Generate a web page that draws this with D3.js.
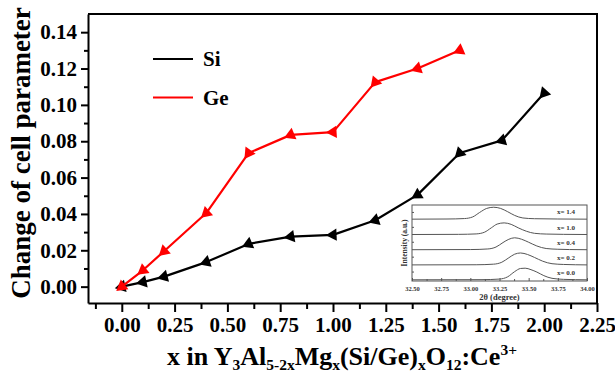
<!DOCTYPE html>
<html>
<head>
<meta charset="utf-8">
<script src="https://cdn.jsdelivr.net/npm/d3@7"></script>
<style>
  html, body { margin: 0; padding: 0; background: #fff; }
  svg { display: block; }
  text { font-family: "Liberation Serif", "Times New Roman", serif; font-weight: bold; }
</style>
</head>
<body>
<svg id="chart" width="615" height="373"></svg>
<script>
// Composition x (Mg/Si or Mg/Ge content)
const siX = [0, 0.1, 0.2, 0.4, 0.6, 0.8, 1.0, 1.2, 1.4, 1.6, 1.8, 2.0];
const siY = [0.000, 0.0025, 0.0055, 0.0135, 0.0235, 0.0275, 0.0285, 0.0365, 0.0505, 0.0735, 0.0805, 0.1065];
const geX = [0, 0.1, 0.2, 0.4, 0.6, 0.8, 1.0, 1.2, 1.4, 1.6];
const geY = [0.000, 0.009, 0.0195, 0.0405, 0.0735, 0.0835, 0.085, 0.1125, 0.1200, 0.1300];

const xTicks = [0, 0.25, 0.5, 0.75, 1.0, 1.25, 1.5, 1.75, 2.0, 2.25];
const yTicks = [0, 0.02, 0.04, 0.06, 0.08, 0.10, 0.12, 0.14];

// XRD inset: peak profiles (2θ in degrees, relative intensity) for several x
const insetLabels = ["x= 1.4", "x= 1.0", "x= 0.4", "x= 0.2", "x= 0.0"];
const insetOffsets = [4.15, 3.12, 2.1, 1.08, 0.08];
const inset14 = [[32.50,0.00],[32.80,0.01],[32.95,0.04],[33.02,0.15],[33.08,0.45],[33.14,0.72],[33.20,0.80],[33.26,0.72],[33.32,0.50],[33.38,0.25],[33.45,0.08],[33.55,0.03],[33.75,0.01],[34.00,0.00]];
const inset10 = [[32.50,0.00],[32.90,0.01],[33.05,0.04],[33.12,0.15],[33.18,0.45],[33.23,0.70],[33.29,0.78],[33.35,0.68],[33.41,0.45],[33.48,0.22],[33.55,0.08],[33.65,0.03],[33.80,0.01],[34.00,0.00]];
const inset04 = [[32.50,0.00],[33.00,0.01],[33.15,0.05],[33.22,0.18],[33.28,0.48],[33.33,0.70],[33.38,0.80],[33.44,0.70],[33.50,0.50],[33.57,0.25],[33.65,0.08],[33.75,0.03],[33.85,0.01],[34.00,0.00]];
const inset02 = [[32.50,0.00],[33.05,0.01],[33.20,0.05],[33.27,0.18],[33.33,0.48],[33.38,0.72],[33.43,0.80],[33.49,0.70],[33.55,0.50],[33.62,0.25],[33.70,0.08],[33.80,0.03],[33.90,0.01],[34.00,0.00]];
const inset00 = [[32.50,0.00],[33.10,0.01],[33.25,0.05],[33.32,0.20],[33.38,0.55],[33.43,0.76],[33.47,0.78],[33.52,0.68],[33.57,0.52],[33.63,0.28],[33.70,0.10],[33.80,0.03],[33.90,0.01],[34.00,0.00]];
const insetSeries = [inset14, inset10, inset04, inset02, inset00];
const insetTicks = [32.50, 32.75, 33.00, 33.25, 33.50, 33.75, 34.00];

const svg = d3.select("#chart");

// Main plot frame
const L = 88, R = 597, T = 14, B = 303;
const x = d3.scaleLinear().domain([-0.16, 2.25]).range([L, R]);
const y = d3.scaleLinear().domain([-0.009, 0.15]).range([B, T]);

// Axes with major and minor ticks
const xMinor = d3.range(-0.125, 2.25, 0.125).filter(v => !xTicks.some(t => Math.abs(t - v) < 1e-6));
const yMinor = d3.range(0.01, 0.15, 0.02);

const gx = svg.append("g").attr("transform", `translate(0,${B})`);
gx.call(d3.axisBottom(x).tickValues(xTicks).tickSize(9).tickSizeOuter(0).tickFormat(d3.format(".2f")));
const gxm = svg.append("g").attr("transform", `translate(0,${B})`);
gxm.call(d3.axisBottom(x).tickValues(xMinor).tickSize(6).tickSizeOuter(0).tickFormat(""));
gxm.select(".domain").remove();

const gy = svg.append("g").attr("transform", `translate(${L},0)`);
gy.call(d3.axisLeft(y).tickValues(yTicks).tickSize(7).tickSizeOuter(0).tickFormat(d3.format(".2f")));
const gym = svg.append("g").attr("transform", `translate(${L},0)`);
gym.call(d3.axisLeft(y).tickValues(yMinor).tickSize(4).tickSizeOuter(0).tickFormat(""));
gym.select(".domain").remove();

[gx, gxm, gy, gym].forEach(g => g.attr("font-family", null).attr("font-size", null));
svg.selectAll(".tick line").attr("stroke", "#000").attr("stroke-width", 2);
svg.selectAll(".domain").attr("stroke", "#000").attr("stroke-width", 2);
gx.selectAll(".tick text").attr("font-size", 21).attr("dy", "0.8em").attr("fill", "#000");
gy.selectAll(".tick text").attr("font-size", 21).attr("dx", "-0.05em").attr("fill", "#000");

// Top and right frame lines
svg.append("path").attr("d", `M${L},${T}H${R}V${B}`).attr("fill", "none").attr("stroke", "#000").attr("stroke-width", 2);

// Data lines
const line = d3.line().x(d => x(d[0])).y(d => y(d[1]));
const siPts = siX.map((v, i) => [v, siY[i]]);
const gePts = geX.map((v, i) => [v, geY[i]]);

function drawSeries(pts, color) {
  svg.append("path").datum(pts).attr("d", line).attr("fill", "none")
    .attr("stroke", color).attr("stroke-width", 2.2).attr("stroke-linejoin", "round");
  const tri = d3.symbol().type(d3.symbolTriangle).size(66);
  svg.append("g").selectAll("path").data(pts).join("path")
    .attr("d", tri).attr("fill", color)
    .attr("transform", (d, i) => {
      const px = x(d[0]), py = y(d[1]);
      let a;
      if (i > 0) {
        const p = pts[i - 1];
        a = Math.atan2(y(p[1]) - py, x(p[0]) - px);
      } else {
        const n = pts[1];
        a = Math.atan2(py - y(n[1]), px - x(n[0]));
      }
      return `translate(${px},${py}) rotate(${a * 180 / Math.PI + 90})`;
    });
}
drawSeries(siPts, "#000");
drawSeries(gePts, "#ff0000");

// Legend
const legend = [["Si", "#000"], ["Ge", "#ff0000"]];
legend.forEach((d, i) => {
  const ly = 59 + i * 38.5;
  svg.append("line").attr("x1", 153).attr("x2", 193).attr("y1", ly).attr("y2", ly)
    .attr("stroke", d[1]).attr("stroke-width", 2.2);
  svg.append("text").attr("x", 203).attr("y", ly + 7).attr("font-size", 21).attr("fill", "#000").text(d[0]);
});

// Axis titles
svg.append("text").attr("transform", "translate(30,153) rotate(-90)").attr("text-anchor", "middle")
  .attr("font-size", 27).attr("fill", "#000").text("Change of cell parameter");

const xt = svg.append("text").attr("x", 342).attr("y", 365).attr("text-anchor", "middle")
  .attr("font-size", 26).attr("fill", "#000");
const parts = [["x in Y", 0], ["3", 1], ["Al", 0], ["5-2x", 1], ["Mg", 0], ["x", 1], ["(Si/Ge)", 0], ["x", 1], ["O", 0], ["12", 1], [":Ce", 0], ["3+", 2]];
parts.forEach(p => {
  const ts = xt.append("tspan").text(p[0]);
  if (p[1] === 1) ts.attr("font-size", 15.5).attr("baseline-shift", "-30%");
  if (p[1] === 2) ts.attr("font-size", 15.5).attr("baseline-shift", "65%");
});

// Inset XRD panel
const iL = 412, iR = 587, iT = 205, iB = 281;
const ix = d3.scaleLinear().domain([32.5, 34.0]).range([iL, iR]);
const iy = d3.scaleLinear().domain([0, 5.1]).range([iB, iT]);
svg.append("rect").attr("x", iL).attr("y", iT).attr("width", iR - iL).attr("height", iB - iT)
  .attr("fill", "#fff").attr("stroke", "#555").attr("stroke-width", 1);
const iline = d3.line().x(d => ix(d[0])).curve(d3.curveMonotoneX);
insetSeries.forEach((s, k) => {
  svg.append("path").datum(s).attr("d", iline.y(d => iy(d[1] + insetOffsets[k])))
    .attr("fill", "none").attr("stroke", "#555").attr("stroke-width", 1);
  svg.append("text").attr("x", 575).attr("y", iy(insetOffsets[k]) - 5).attr("text-anchor", "end")
    .attr("font-size", 7).attr("fill", "#333").text(insetLabels[k]);
});
const iax = svg.append("g").attr("transform", `translate(0,${iB})`);
iax.call(d3.axisBottom(ix).tickValues(insetTicks).tickSize(-3).tickSizeOuter(0).tickFormat(d3.format(".2f")));
iax.attr("font-family", null).attr("font-size", null);
iax.select(".domain").remove();
iax.selectAll(".tick line").attr("stroke", "#555").attr("stroke-width", 1);
iax.selectAll(".tick text").attr("font-size", 6.5).attr("fill", "#333").attr("dy", "1.1em");
const iaxm = svg.append("g").attr("transform", `translate(0,${iB})`);
iaxm.call(d3.axisBottom(ix).tickValues(d3.range(32.625, 34, 0.25)).tickSize(-2).tickSizeOuter(0).tickFormat(""));
iaxm.select(".domain").remove();
iaxm.selectAll(".tick line").attr("stroke", "#555");
const iayTicks = [iy(0.6), iy(1.6), iy(2.6), iy(3.6), iy(4.6)];
svg.append("g").selectAll("line").data(iayTicks).join("line")
  .attr("x1", iL).attr("x2", iL + 2).attr("y1", d => d).attr("y2", d => d).attr("stroke", "#555");

svg.append("text").attr("x", (iL + iR) / 2).attr("y", 300).attr("text-anchor", "middle")
  .attr("font-size", 8.5).attr("fill", "#333").text("2θ (degree)");
svg.append("text").attr("transform", `translate(407,${(iT + iB) / 2}) rotate(-90)`).attr("text-anchor", "middle")
  .attr("font-size", 7.5).attr("fill", "#333").text("Intensity (a.u.)");
</script>
</body>
</html>
